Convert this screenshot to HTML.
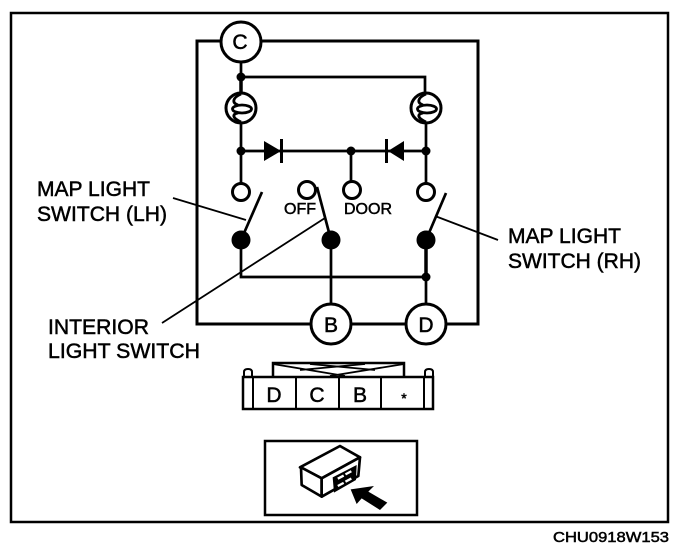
<!DOCTYPE html>
<html>
<head>
<meta charset="utf-8">
<style>
html,body{margin:0;padding:0;background:#fff;width:688px;height:552px;overflow:hidden}
svg{display:block}
text{font-family:"Liberation Sans",sans-serif;fill:#000;stroke:#000;stroke-width:.5}
</style>
</head>
<body>
<svg width="688" height="552" viewBox="0 0 688 552" xmlns="http://www.w3.org/2000/svg">
<rect width="688" height="552" fill="#fff"/>
<g fill="none" stroke="#000">
  <rect x="11" y="13" width="657" height="509" stroke-width="2.5"/>
  <rect x="197" y="41" width="281" height="283" stroke-width="3"/>
  <g stroke-width="2.7">
    <path d="M241 62V93M241 77H425V94"/>
    <path d="M241 123V184M426 123V184M241 151H426M351 151V181"/>
    <path d="M241 240V277H426M331 240V304M426 277V304"/>
    <path d="M241 240L262 192M331 240L317 187M426 240L446 193"/>
  </g>
  <path d="M241 77V93M426 240V277" stroke-width="3.5"/>
  <g stroke-width="1.8">
    <path d="M173 198L246 220M435 216L498 240M162 323L325 218"/>
  </g>
</g>
<!-- terminal circles -->
<g fill="#fff" stroke="#000" stroke-width="3">
  <circle cx="241" cy="42" r="20"/>
  <circle cx="331" cy="324" r="20"/>
  <circle cx="426" cy="324" r="20"/>
  <circle cx="241" cy="108" r="15"/>
  <circle cx="426" cy="108" r="15"/>
  <circle cx="241" cy="192" r="8.5"/>
  <circle cx="307" cy="190" r="8.5"/>
  <circle cx="352" cy="190" r="8.5"/>
  <circle cx="426" cy="192" r="8.5"/>
</g>
<!-- bulb filaments -->
<g fill="none" stroke="#000" stroke-width="2.8">
  <path d="M241 94C232 98 232 103 238 105M241 122C232 118 232 114 238 113"/>
  <ellipse cx="242" cy="109" rx="9.5" ry="4"/>
  <path d="M426 94C417 98 417 103 423 105M426 122C417 118 417 114 423 113"/>
  <ellipse cx="427" cy="109" rx="9.5" ry="4"/>
</g>
<!-- nodes -->
<g fill="#000">
  <circle cx="241" cy="77" r="4.5"/>
  <circle cx="241" cy="151" r="4.5"/>
  <circle cx="351" cy="151" r="4.5"/>
  <circle cx="426" cy="151" r="4.5"/>
  <circle cx="426" cy="277" r="4.5"/>
  <circle cx="241" cy="240" r="9.5"/>
  <circle cx="331" cy="240" r="9.5"/>
  <circle cx="426" cy="240" r="9.5"/>
  <polygon points="264,141 264,161 281,151"/>
  <rect x="280" y="139" width="3" height="24"/>
  <polygon points="404,141 404,161 388,151"/>
  <rect x="385" y="139" width="3" height="24"/>
</g>
<!-- terminal letters -->
<g font-size="21" text-anchor="middle">
  <text x="240" y="49">C</text>
  <text x="331" y="332">B</text>
  <text x="426" y="332">D</text>
</g>
<!-- labels -->
<g font-size="21">
  <text x="37" y="196" textLength="113" lengthAdjust="spacingAndGlyphs">MAP LIGHT</text>
  <text x="37" y="221" textLength="130" lengthAdjust="spacingAndGlyphs">SWITCH (LH)</text>
  <text x="48" y="334" textLength="101" lengthAdjust="spacingAndGlyphs">INTERIOR</text>
  <text x="48" y="358" textLength="152" lengthAdjust="spacingAndGlyphs">LIGHT SWITCH</text>
  <text x="508" y="243" textLength="113" lengthAdjust="spacingAndGlyphs">MAP LIGHT</text>
  <text x="508" y="268" textLength="133" lengthAdjust="spacingAndGlyphs">SWITCH (RH)</text>
</g>
<g font-size="16">
  <text x="284" y="214" textLength="32" lengthAdjust="spacingAndGlyphs">OFF</text>
  <text x="344" y="214" textLength="48" lengthAdjust="spacingAndGlyphs">DOOR</text>
</g>
<!-- connector -->
<g fill="none" stroke="#000" stroke-width="2.5">
  <path d="M273 377V363H404V377"/>
  <path d="M273 364L345 376M404 364L330 376M300 370L365 364M375 370L310 364" stroke-width="1.8"/>
  <rect x="243" y="377" width="190" height="32"/>
  <path d="M253 377V409M296 377V409M339 377V409M381 377V409M424 377V409" stroke-width="2"/>
  <path d="M244 377V372Q244 369 248 369Q252 369 252 372V377M425 377V372Q425 369 429 369Q433 369 433 372V377" stroke-width="2"/>
</g>
<g font-size="21" text-anchor="middle">
  <text x="274" y="402">D</text>
  <text x="317" y="402">C</text>
  <text x="360" y="402">B</text>
  <text x="404" y="403" font-size="14">*</text>
</g>
<!-- view box -->
<rect x="265" y="441" width="152" height="74" fill="none" stroke="#000" stroke-width="2.5"/>
<g transform="translate(230 350) scale(.3333)">
  <g fill="#fff" stroke="#000" stroke-width="8" stroke-linejoin="round">
    <polygon points="210,352 330,288 390,322 275,385"/>
    <polygon points="213,352 275,385 275,440 215,405"/>
    <polygon points="275,385 390,322 385,378 275,440"/>
  </g>
  <polygon points="308,382 380,345 378,390 312,428" fill="#000"/>
  <g fill="#fff">
    <rect x="322" y="378" width="20" height="7" transform="rotate(-28 332 381)"/>
    <rect x="345" y="365" width="20" height="7" transform="rotate(-28 355 368)"/>
    <rect x="322" y="400" width="20" height="7" transform="rotate(-28 332 403)"/>
    <rect x="345" y="387" width="20" height="7" transform="rotate(-28 355 390)"/>
  </g>
  <polygon points="362,418 432,408 415,425 472,458 450,480 395,445 380,462" fill="#000"/>
</g>
<text x="553" y="542" font-size="14.5" textLength="116" lengthAdjust="spacingAndGlyphs">CHU0918W153</text>
</svg>
</body>
</html>
